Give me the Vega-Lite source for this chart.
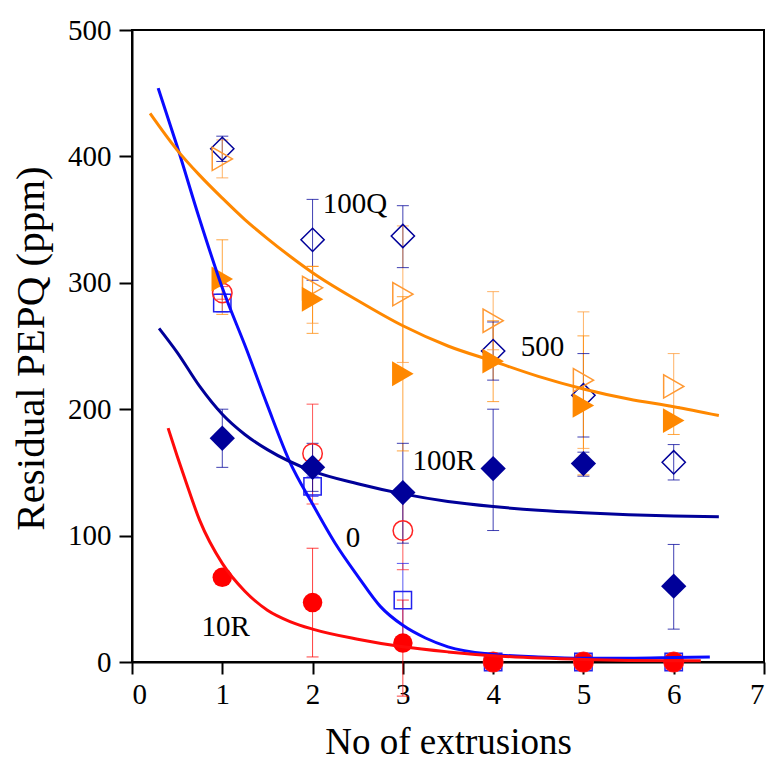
{
  "$schema": "https://vega.github.io/schema/vega-lite/v6.json",
  "autosize": "none",
  "width": 632,
  "height": 632,
  "padding": {"left": 132, "top": 30, "right": 8, "bottom": 100},
  "background": "white",
  "config": {
    "view": {"stroke": "black", "strokeWidth": 2},
    "font": "Liberation Serif",
    "axis": {"grid": false, "domainColor": "black", "domainWidth": 2, "tickColor": "black", "tickWidth": 2, "labelColor": "black", "titleColor": "black", "labelFont": "Liberation Serif", "titleFont": "Liberation Serif", "labelFontSize": 29, "titleFontWeight": "normal"}
  },
  "datasets": {
    "pts": [
      {"series": "0", "x": 1, "y": 284, "lo": 277, "hi": 291},
      {"series": "0", "x": 2, "y": 139, "lo": 131, "hi": 147},
      {"series": "0", "x": 3, "y": 49, "lo": 20, "hi": 78},
      {"series": "0", "x": 4, "y": 0, "lo": 0, "hi": 0},
      {"series": "0", "x": 5, "y": 0, "lo": 0, "hi": 0},
      {"series": "0", "x": 6, "y": 0, "lo": 0, "hi": 0},
      {"series": "10Q", "x": 1, "y": 292, "lo": 287, "hi": 297},
      {"series": "10Q", "x": 2, "y": 165, "lo": 125, "hi": 204},
      {"series": "10Q", "x": 3, "y": 104, "lo": 73, "hi": 134},
      {"series": "10Q", "x": 4, "y": 0, "lo": 0, "hi": 0},
      {"series": "10Q", "x": 5, "y": 0, "lo": 0, "hi": 0},
      {"series": "10Q", "x": 6, "y": 0, "lo": 0, "hi": 0},
      {"series": "10R", "x": 1, "y": 67, "lo": 62, "hi": 72},
      {"series": "10R", "x": 2, "y": 47, "lo": 4, "hi": 90},
      {"series": "10R", "x": 3, "y": 15, "lo": -27, "hi": 49},
      {"series": "10R", "x": 4, "y": 0, "lo": 0, "hi": 0},
      {"series": "10R", "x": 5, "y": 0, "lo": 0, "hi": 0},
      {"series": "10R", "x": 6, "y": 0, "lo": 0, "hi": 0},
      {"series": "100Q", "x": 1, "y": 406, "lo": 396, "hi": 416},
      {"series": "100Q", "x": 2, "y": 334, "lo": 302, "hi": 366},
      {"series": "100Q", "x": 3, "y": 337, "lo": 312, "hi": 361},
      {"series": "100Q", "x": 4, "y": 246, "lo": 223, "hi": 269},
      {"series": "100Q", "x": 5, "y": 211, "lo": 178, "hi": 244},
      {"series": "100Q", "x": 6, "y": 158, "lo": 144, "hi": 172},
      {"series": "100R", "x": 1, "y": 177, "lo": 154, "hi": 200},
      {"series": "100R", "x": 2, "y": 154, "lo": 135, "hi": 173},
      {"series": "100R", "x": 3, "y": 134, "lo": 94, "hi": 173},
      {"series": "100R", "x": 4, "y": 153, "lo": 104, "hi": 200},
      {"series": "100R", "x": 5, "y": 157, "lo": 147, "hi": 166},
      {"series": "100R", "x": 6, "y": 60, "lo": 26, "hi": 93},
      {"series": "500o", "x": 1, "y": 398, "lo": 383, "hi": 413},
      {"series": "500o", "x": 2, "y": 296, "lo": 268, "hi": 313},
      {"series": "500o", "x": 3, "y": 291, "lo": 237, "hi": 345},
      {"series": "500o", "x": 4, "y": 270, "lo": 247, "hi": 293},
      {"series": "500o", "x": 5, "y": 223, "lo": 169, "hi": 277},
      {"series": "500o", "x": 6, "y": 218, "lo": 191, "hi": 244},
      {"series": "500f", "x": 1, "y": 303, "lo": 275, "hi": 334},
      {"series": "500f", "x": 2, "y": 287, "lo": 260, "hi": 313},
      {"series": "500f", "x": 3, "y": 228, "lo": 167, "hi": 289},
      {"series": "500f", "x": 4, "y": 238, "lo": 206, "hi": 270},
      {"series": "500f", "x": 5, "y": 203, "lo": 148, "hi": 258},
      {"series": "500f", "x": 6, "y": 191, "lo": 180, "hi": 202}
    ],
    "curves": [
      {"curve": "c0", "x": 0.29, "y": 454}, {"curve": "c0", "x": 0.5, "y": 408}, {"curve": "c0", "x": 0.75, "y": 350},
      {"curve": "c0", "x": 1.0, "y": 296}, {"curve": "c0", "x": 1.27, "y": 247}, {"curve": "c0", "x": 1.5, "y": 203},
      {"curve": "c0", "x": 1.75, "y": 158}, {"curve": "c0", "x": 2.0, "y": 125}, {"curve": "c0", "x": 2.25, "y": 94},
      {"curve": "c0", "x": 2.5, "y": 68}, {"curve": "c0", "x": 2.75, "y": 44}, {"curve": "c0", "x": 3.0, "y": 29},
      {"curve": "c0", "x": 3.25, "y": 19}, {"curve": "c0", "x": 3.5, "y": 12}, {"curve": "c0", "x": 4.0, "y": 6},
      {"curve": "c0", "x": 4.5, "y": 4}, {"curve": "c0", "x": 5.0, "y": 3}, {"curve": "c0", "x": 5.5, "y": 3},
      {"curve": "c0", "x": 6.0, "y": 3.5}, {"curve": "c0", "x": 6.4, "y": 4},
      {"curve": "c10R", "x": 0.4, "y": 185}, {"curve": "c10R", "x": 0.5, "y": 163}, {"curve": "c10R", "x": 0.6, "y": 142},
      {"curve": "c10R", "x": 0.75, "y": 112}, {"curve": "c10R", "x": 1.0, "y": 78}, {"curve": "c10R", "x": 1.25, "y": 56},
      {"curve": "c10R", "x": 1.5, "y": 41}, {"curve": "c10R", "x": 1.75, "y": 32}, {"curve": "c10R", "x": 2.0, "y": 26},
      {"curve": "c10R", "x": 2.5, "y": 18}, {"curve": "c10R", "x": 3.0, "y": 12}, {"curve": "c10R", "x": 3.5, "y": 8},
      {"curve": "c10R", "x": 4.0, "y": 5}, {"curve": "c10R", "x": 5.0, "y": 2}, {"curve": "c10R", "x": 6.0, "y": 1},
      {"curve": "c10R", "x": 6.3, "y": 1},
      {"curve": "c100R", "x": 0.3, "y": 264}, {"curve": "c100R", "x": 0.5, "y": 245}, {"curve": "c100R", "x": 0.75, "y": 218},
      {"curve": "c100R", "x": 1.0, "y": 196}, {"curve": "c100R", "x": 1.25, "y": 180}, {"curve": "c100R", "x": 1.5, "y": 168},
      {"curve": "c100R", "x": 2.0, "y": 151}, {"curve": "c100R", "x": 2.5, "y": 141}, {"curve": "c100R", "x": 3.0, "y": 133},
      {"curve": "c100R", "x": 3.5, "y": 127}, {"curve": "c100R", "x": 4.0, "y": 123}, {"curve": "c100R", "x": 4.5, "y": 120},
      {"curve": "c100R", "x": 5.0, "y": 118}, {"curve": "c100R", "x": 5.5, "y": 116.5}, {"curve": "c100R", "x": 6.0, "y": 115.5},
      {"curve": "c100R", "x": 6.5, "y": 115},
      {"curve": "c500", "x": 0.2, "y": 434}, {"curve": "c500", "x": 0.5, "y": 405}, {"curve": "c500", "x": 0.75, "y": 385},
      {"curve": "c500", "x": 1.0, "y": 367}, {"curve": "c500", "x": 1.25, "y": 350}, {"curve": "c500", "x": 1.5, "y": 335},
      {"curve": "c500", "x": 1.75, "y": 321}, {"curve": "c500", "x": 2.0, "y": 308}, {"curve": "c500", "x": 2.5, "y": 286},
      {"curve": "c500", "x": 3.0, "y": 266}, {"curve": "c500", "x": 3.5, "y": 250}, {"curve": "c500", "x": 4.0, "y": 238},
      {"curve": "c500", "x": 4.5, "y": 226}, {"curve": "c500", "x": 5.0, "y": 216}, {"curve": "c500", "x": 5.5, "y": 208},
      {"curve": "c500", "x": 6.0, "y": 202}, {"curve": "c500", "x": 6.5, "y": 195}
    ],
    "labels": [
      {"label": "100Q", "x": 2.47, "y": 362},
      {"label": "500", "x": 4.546, "y": 249},
      {"label": "100R", "x": 3.455, "y": 159},
      {"label": "0", "x": 2.447, "y": 98},
      {"label": "10R", "x": 1.038, "y": 28}
    ]
  },
  "encoding": {
    "x": {"type": "quantitative", "scale": {"domain": [0, 7], "nice": false, "zero": false},
      "axis": {"values": [0, 1, 2, 3, 4, 5, 6, 7], "tickSize": 12, "labelPadding": 6, "title": "No of extrusions", "titleFontSize": 37, "titleBaseline": "alphabetic", "titleY": 91}},
    "y": {"type": "quantitative", "scale": {"domain": [0, 500], "nice": false, "zero": false},
      "axis": {"values": [0, 100, 200, 300, 400, 500], "tickSize": 13, "labelPadding": 8, "title": "Residual PEPQ (ppm)", "titleFontSize": 41, "titleBaseline": "alphabetic", "titleAngle": -90, "titleX": -89, "titleY": 318, "titleAlign": "center"}}
  },
  "layer": [
    {
      "data": {"name": "pts"},
      "mark": {"type": "rule", "strokeWidth": 1, "opacity": 0.75},
      "encoding": {
        "x": {"field": "x", "type": "quantitative"},
        "y": {"field": "lo", "type": "quantitative"},
        "y2": {"field": "hi"},
        "color": {"field": "series", "type": "nominal", "legend": null,
          "scale": {"domain": ["0", "10Q", "10R", "100Q", "100R", "500o", "500f", "c0", "c10R", "c100R", "c500"],
            "range": ["#2222ee", "#ff2222", "#ff0000", "#000099", "#000099", "#ff9933", "#ff8800", "#0a0aff", "#ff0a0a", "#000099", "#ff8800"]}}
      }
    },
    {
      "data": {"name": "pts"},
      "mark": {"type": "point", "shape": "stroke", "size": 144, "strokeWidth": 1, "opacity": 0.75, "filled": false},
      "encoding": {
        "x": {"field": "x", "type": "quantitative"},
        "y": {"field": "lo", "type": "quantitative"},
        "color": {"field": "series", "type": "nominal", "legend": null}
      }
    },
    {
      "data": {"name": "pts"},
      "mark": {"type": "point", "shape": "stroke", "size": 144, "strokeWidth": 1, "opacity": 0.75, "filled": false},
      "encoding": {
        "x": {"field": "x", "type": "quantitative"},
        "y": {"field": "hi", "type": "quantitative"},
        "color": {"field": "series", "type": "nominal", "legend": null}
      }
    },
    {
      "data": {"name": "pts"},
      "transform": [{"filter": {"field": "series", "equal": "0"}}],
      "mark": {"type": "point", "shape": "square", "size": 300, "filled": false, "strokeWidth": 1.5, "color": "#2222ee", "opacity": 1},
      "encoding": {"x": {"field": "x", "type": "quantitative"}, "y": {"field": "y", "type": "quantitative"}}
    },
    {
      "data": {"name": "pts"},
      "transform": [{"filter": {"field": "series", "equal": "10Q"}}],
      "mark": {"type": "point", "shape": "circle", "size": 380, "filled": false, "strokeWidth": 1.5, "color": "#ff2222", "opacity": 1},
      "encoding": {"x": {"field": "x", "type": "quantitative"}, "y": {"field": "y", "type": "quantitative"}}
    },
    {
      "data": {"name": "pts"},
      "transform": [{"filter": {"field": "series", "equal": "10R"}}],
      "mark": {"type": "point", "shape": "circle", "size": 380, "filled": true, "color": "#ff0000", "opacity": 1},
      "encoding": {"x": {"field": "x", "type": "quantitative"}, "y": {"field": "y", "type": "quantitative"}}
    },
    {
      "data": {"name": "pts"},
      "transform": [{"filter": {"field": "series", "equal": "100Q"}}],
      "mark": {"type": "point", "shape": "diamond", "size": 540, "filled": false, "strokeWidth": 1.5, "color": "#000099", "opacity": 1},
      "encoding": {"x": {"field": "x", "type": "quantitative"}, "y": {"field": "y", "type": "quantitative"}}
    },
    {
      "data": {"name": "pts"},
      "transform": [{"filter": {"field": "series", "equal": "100R"}}],
      "mark": {"type": "point", "shape": "diamond", "size": 640, "filled": true, "color": "#000099", "opacity": 1},
      "encoding": {"x": {"field": "x", "type": "quantitative"}, "y": {"field": "y", "type": "quantitative"}}
    },
    {
      "data": {"name": "pts"},
      "transform": [{"filter": {"field": "series", "equal": "500o"}}],
      "mark": {"type": "point", "shape": "triangle-right", "size": 540, "filled": false, "strokeWidth": 1.5, "color": "#ff9933", "opacity": 1},
      "encoding": {"x": {"field": "x", "type": "quantitative"}, "y": {"field": "y", "type": "quantitative"}}
    },
    {
      "data": {"name": "pts"},
      "transform": [{"filter": {"field": "series", "equal": "500f"}}],
      "mark": {"type": "point", "shape": "triangle-right", "size": 620, "filled": true, "color": "#ff8800", "opacity": 1},
      "encoding": {"x": {"field": "x", "type": "quantitative"}, "y": {"field": "y", "type": "quantitative"}}
    },
    {
      "data": {"name": "curves"},
      "mark": {"type": "line", "strokeWidth": 3, "interpolate": "monotone"},
      "encoding": {
        "x": {"field": "x", "type": "quantitative"},
        "y": {"field": "y", "type": "quantitative"},
        "color": {"field": "curve", "type": "nominal", "legend": null},
        "detail": {"field": "curve"}
      }
    },
    {
      "data": {"name": "labels"},
      "mark": {"type": "text", "font": "Liberation Serif", "fontSize": 29, "align": "center", "baseline": "middle", "color": "black"},
      "encoding": {
        "x": {"field": "x", "type": "quantitative"},
        "y": {"field": "y", "type": "quantitative"},
        "text": {"field": "label"}
      }
    }
  ]
}
